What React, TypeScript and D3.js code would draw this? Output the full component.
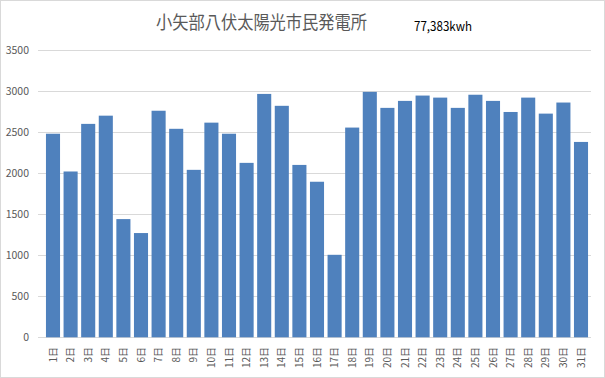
import React from "react";
import * as d3 from "d3";

const days: string[] = Array.from({ length: 31 }, (_, i) => `${i + 1}日`);
const values: number[] = [
  2480, 2020, 2600, 2700, 1440, 1270, 2760, 2540, 2040, 2615,
  2480, 2125, 2965, 2820, 2100, 1895, 1005, 2555, 2990, 2795,
  2880, 2945, 2920, 2795, 2955, 2880, 2745, 2920, 2725, 2860, 2380,
];
const yTicks: number[] = [0, 500, 1000, 1500, 2000, 2500, 3000, 3500];
const title = "小矢部八伏太陽光市民発電所";
const total = "77,383kwh";

const W = 605;
const H = 378;
const gridLeft = 38;
const gridRight = 591;
const top = 50;
const bottom = 337.3;

export default function App() {
  const x = d3.scaleBand<string>().domain(days).range([44.2, 589.8]).paddingInner(0.2).paddingOuter(0.1);
  const y = d3.scaleLinear().domain([0, 3500]).range([bottom, top]);
  const font = "'Noto Sans CJK JP', 'Noto Sans', sans-serif";
  return (
    <svg width={W} height={H} style={{ position: "absolute", left: 0, top: 0, background: "#fff" }} fontFamily={font}>
      <rect x={0.5} y={0.5} width={W - 1} height={H - 1} fill="#fff" stroke="#d9d9d9" />
      <text x={261.5} y={29} textAnchor="middle" fontSize={18} fill="#595959" textLength={211} lengthAdjust="spacingAndGlyphs">
        {title}
      </text>
      <text x={414} y={30.5} fontSize={13} fill="#000" textLength={58} lengthAdjust="spacingAndGlyphs">
        {total}
      </text>
      {yTicks.map((t) => (
        <g key={t}>
          <line x1={gridLeft} x2={gridRight} y1={Math.round(y(t)) + 0.5} y2={Math.round(y(t)) + 0.5} stroke="#d9d9d9" strokeWidth={1} />
          <text x={29} y={y(t)} dy="0.35em" textAnchor="end" fontSize={10.5} fill="#595959">
            {t}
          </text>
        </g>
      ))}
      {values.map((v, i) => (
        <rect key={i} x={x(days[i])!} y={y(v)} width={x.bandwidth()} height={y(0) - y(v)} fill="#4f81bd" />
      ))}
      {days.map((d) => {
        const cx = x(d)! + x.bandwidth() / 2;
        return (
          <text key={d} transform={`translate(${cx},347) rotate(-90)`} textAnchor="end" dy="0.35em" fontSize={10} fill="#595959">
            {d}
          </text>
        );
      })}
    </svg>
  );
}
